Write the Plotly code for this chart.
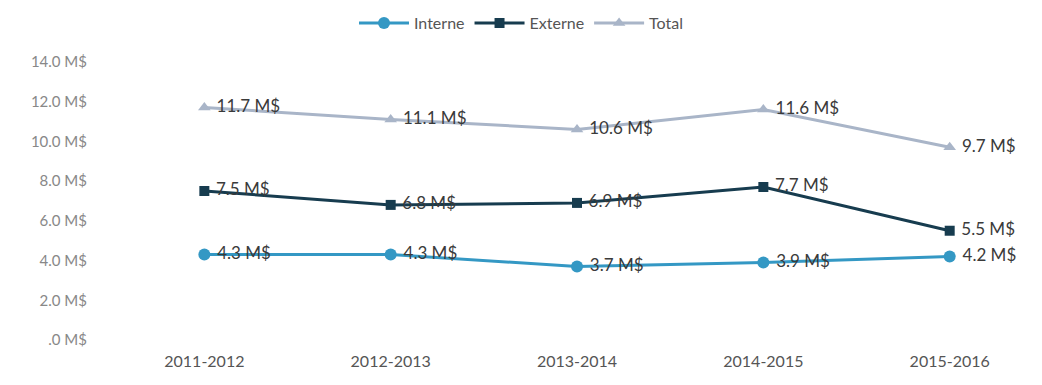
import plotly.graph_objects as go

categories = ["2011-2012", "2012-2013", "2013-2014", "2014-2015", "2015-2016"]
interne = [4.3, 4.3, 3.7, 3.9, 4.2]
externe = [7.5, 6.8, 6.9, 7.7, 5.5]
total = [11.7, 11.1, 10.6, 11.6, 9.7]
tick_values = [0, 2, 4, 6, 8, 10, 12, 14]
tick_labels = [".0 M$", "2.0 M$", "4.0 M$", "6.0 M$", "8.0 M$", "10.0 M$", "12.0 M$", "14.0 M$"]

FONT = "Lato, Open Sans, sans-serif"

def fmt(v):
    return f" {v:.1f} M$"

series = [
    ("Interne", interne, "#3498c4", "circle", 12),
    ("Externe", externe, "#173c4f", "square", 10),
    ("Total", total, "#a9b5c8", "triangle-up", 11),
]

fig = go.Figure()
for name, vals, color, sym, ms in series:
    fig.add_trace(go.Scatter(
        x=categories, y=vals, name=name, mode="lines+markers+text",
        line=dict(color=color, width=3),
        marker=dict(symbol=sym, size=ms, color=color),
        text=[fmt(v) for v in vals], textposition="middle right",
        textfont=dict(family=FONT, size=17, color="#3a3a3a"),
        cliponaxis=False,
    ))

fig.update_layout(
    width=1042, height=385,
    margin=dict(l=100, r=42, t=56, b=41),
    paper_bgcolor="white", plot_bgcolor="white",
    font=dict(family=FONT, color="#777777", size=15),
    legend=dict(orientation="h", xref="container", yref="container",
                x=0.5, xanchor="center", y=0.94, yanchor="middle",
                font=dict(family=FONT, size=16, color="#555555"),
                itemwidth=50, traceorder="normal"),
    showlegend=True,
)
fig.update_xaxes(range=[-0.56, 4.27], showgrid=False, zeroline=False, showline=False,
                 ticks="", ticklabelstandoff=6,
                 tickfont=dict(family=FONT, size=16, color="#555555"))
fig.update_yaxes(range=[-0.2, 14.2], tickvals=tick_values, ticktext=tick_labels,
                 showgrid=False, zeroline=False, showline=False, ticks="",
                 ticklabelstandoff=12,
                 tickfont=dict(family=FONT, size=15, color="#888888"))

fig.write_html("out.html")
